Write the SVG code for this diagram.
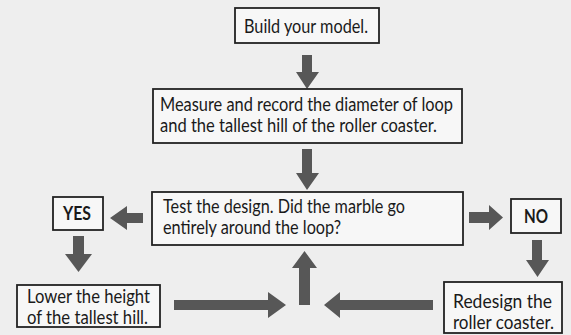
<svg xmlns="http://www.w3.org/2000/svg" width="571" height="335" viewBox="0 0 571 335">
  <style>
    .box { fill: #f7f7f7; stroke: #222222; stroke-width: 1.8; }
    .t { font-family: Lato, "Liberation Sans", sans-serif; font-size: 19.5px; fill: #1a1a1a; }
    .b { font-weight: bold; }
    .arrow { fill: #575757; }
  </style>
  <rect x="0" y="0" width="571" height="335" fill="#eeeeee"/>

  <g id="connectors">
    <!-- build -> measure -->
    <polygon class="arrow" points="302,55 312,55 312,72 319,72 307,89 296,72 302,72"/>
    <!-- measure -> test -->
    <polygon class="arrow" points="302,149 312,149 312,173 319,173 307,190 296,173 302,173"/>
    <!-- test -> YES -->
    <polygon class="arrow" points="143,213 127,213 127,206 110,218 127,230 127,223 143,223"/>
    <!-- test -> NO -->
    <polygon class="arrow" points="469,212 489,212 489,205 503,217.5 489,230 489,223 469,223"/>
    <!-- YES -> lower -->
    <polygon class="arrow" points="73,236 84,236 84,254 92,254 78.5,272 65,254 73,254"/>
    <!-- NO -> redesign -->
    <polygon class="arrow" points="532,240 542,240 542,260 549,260 537.5,277 526,260 532,260"/>
    <!-- lower -> center -->
    <polygon class="arrow" points="174,300 268,300 268,292 286,305 268,318 268,310 174,310"/>
    <!-- redesign -> center -->
    <polygon class="arrow" points="433,300 340,300 340,292 324,305 340,318 340,310 433,310"/>
    <!-- center -> test -->
    <polygon class="arrow" points="299,305 299,268 292,268 304.5,251 317,268 310,268 310,305"/>
  </g>

  <g id="build">
    <rect class="box" x="235" y="8" width="144" height="35"/>
    <text class="t" x="244" y="33" textLength="124" lengthAdjust="spacingAndGlyphs">Build your model.</text>
  </g>

  <g id="measure">
    <rect class="box" x="153" y="89" width="309" height="54"/>
    <text class="t" x="160" y="111" textLength="293" lengthAdjust="spacingAndGlyphs">Measure and record the diameter of loop</text>
    <text class="t" x="160" y="132" textLength="277" lengthAdjust="spacingAndGlyphs">and the tallest hill of the roller coaster.</text>
  </g>

  <g id="test">
    <rect class="box" x="152" y="192" width="311" height="53"/>
    <text class="t" x="163" y="213" textLength="242" lengthAdjust="spacingAndGlyphs">Test the design. Did the marble go</text>
    <text class="t" x="163" y="234" textLength="178" lengthAdjust="spacingAndGlyphs">entirely around the loop?</text>
  </g>

  <g id="yes">
    <rect class="box" x="53" y="197" width="50" height="33"/>
    <text class="t b" x="63" y="220" textLength="28" lengthAdjust="spacingAndGlyphs">YES</text>
  </g>

  <g id="no">
    <rect class="box" x="511" y="199" width="50" height="34"/>
    <text class="t b" x="524" y="223" textLength="24" lengthAdjust="spacingAndGlyphs">NO</text>
  </g>

  <g id="lower">
    <rect class="box" x="17" y="285" width="143" height="42"/>
    <text class="t" x="27" y="303" textLength="123" lengthAdjust="spacingAndGlyphs">Lower the height</text>
    <text class="t" x="27" y="324" textLength="121" lengthAdjust="spacingAndGlyphs">of the tallest hill.</text>
  </g>

  <g id="redesign">
    <rect class="box" x="444" y="282" width="118" height="51"/>
    <text class="t" x="453" y="308" textLength="99" lengthAdjust="spacingAndGlyphs">Redesign the</text>
    <text class="t" x="453" y="329" textLength="101" lengthAdjust="spacingAndGlyphs">roller coaster.</text>
  </g>
</svg>
